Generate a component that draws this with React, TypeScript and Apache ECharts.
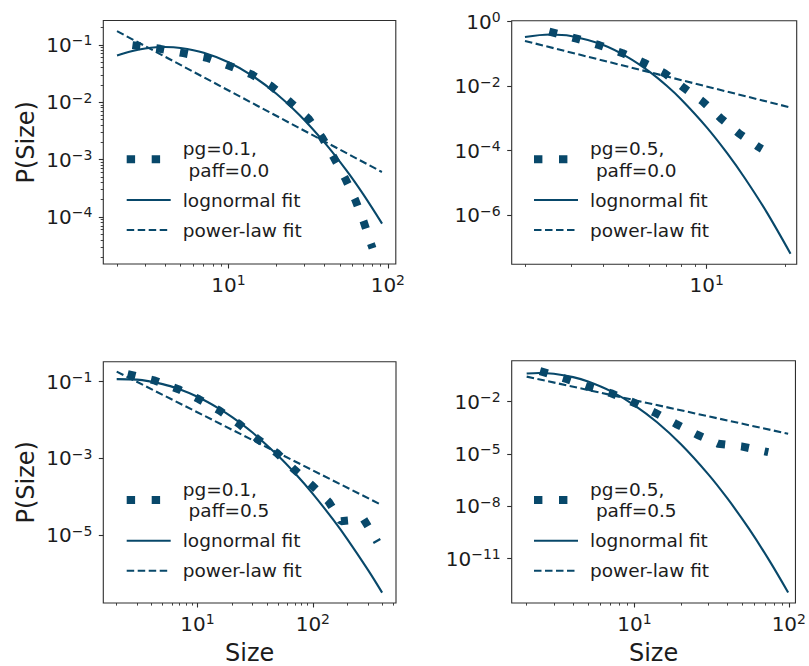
import React, { useEffect, useRef } from "react";
import * as echarts from "echarts";

// ---------- data ----------
// Panel 1: pg=0.1, paff=0.0
const p1Label = "pg=0.1,\n paff=0.0";
const p1DataX = [2.5, 3.73, 5.22, 7.31, 10.0, 14.0, 18.7, 24.4, 31.8, 38.5, 45.6, 54.0, 62.4, 70.3, 78.7, 80.2];
const p1DataY = [0.0985, 0.085, 0.0714, 0.0594, 0.0436, 0.0304, 0.0188, 0.01, 0.00516, 0.00247, 0.00111, 4.7e-4, 2.0e-4, 8.5e-5, 3.3e-5, 2.85e-5];
const p1LogX = [2, 2.5, 3, 4, 5, 7, 10, 14, 20, 28, 40, 55, 70, 92];
const p1LogY = [0.0649, 0.078, 0.0861, 0.0912, 0.0879, 0.0726, 0.0496, 0.0293, 0.014, 0.00593, 0.00199, 6.46e-4, 2.49e-4, 7.64e-5];
const p1PowX = [2, 91.8];
const p1PowY = [0.1726, 6.08e-4];

// Panel 2: pg=0.5, paff=0.0
const p2Label = "pg=0.5,\n paff=0.0";
const p2DataX = [2.48, 3.16, 3.86, 4.75, 5.75, 6.92, 8.19, 9.66, 11.3, 13.3, 15.8, 16.3];
const p2DataY = [0.49, 0.298, 0.186, 0.105, 0.0526, 0.0245, 0.0087, 0.0033, 0.00102, 3.4e-4, 1.3e-4, 1.12e-4];
const p2LogX = [2, 2.5, 3, 4, 5, 6, 7, 8, 10, 12, 14, 17, 21];
const p2LogY = [0.333, 0.398, 0.357, 0.188, 0.0767, 0.0286, 0.0104, 0.00377, 5.25e-4, 8.17e-5, 1.41e-5, 1.23e-6, 6.3e-8];
const p2PowX = [2, 20.9];
const p2PowY = [0.252, 0.00219];

// Panel 3: pg=0.1, paff=0.5
const p3Label = "pg=0.1,\n paff=0.5";
const p3DataX = [2.49, 4.3, 6.84, 10.3, 15.5, 23.1, 33.8, 48.8, 69, 96.2, 137, 175, 275, 348, 362];
const p3DataY = [0.158, 0.106, 0.0636, 0.0349, 0.0177, 0.0078, 0.00306, 0.00138, 5.1e-4, 2.1e-4, 7.4e-5, 2.3e-5, 2.6e-5, 8.2e-6, 6.6e-6];
const p3LogX = [2, 3, 5, 7, 10, 15, 20, 30, 50, 70, 100, 150, 200, 300, 398];
const p3LogY = [0.1167, 0.1127, 0.0863, 0.0631, 0.0403, 0.0208, 0.01189, 0.00471, 0.00117, 4.08e-4, 1.19e-4, 2.52e-5, 7.64e-6, 1.24e-6, 3.17e-7];
const p3PowX = [2, 385];
const p3PowY = [0.182, 6.3e-5];

// Panel 4: pg=0.5, paff=0.5
const p4Label = "pg=0.5,\n paff=0.5";
const p4DataX = [2.44, 3.65, 5.03, 7.05, 9.86, 13.5, 18.5, 25.5, 34.8, 49.2, 69.5, 73.6];
const p4DataY = [0.56, 0.19, 0.072, 0.03, 0.0088, 0.00235, 5.3e-4, 1.25e-4, 3.8e-5, 2.7e-5, 1.4e-5, 1.26e-5];
const p4LogX = [2, 2.4, 3, 4, 5, 7, 10, 14, 20, 30, 40, 55, 75, 99];
const p4LogY = [0.407, 0.437, 0.394, 0.252, 0.141, 0.0396, 0.00612, 6.49e-4, 3.56e-5, 6.92e-7, 2.77e-8, 5.31e-10, 7.36e-12, 1.13e-13];
const p4PowX = [2, 99];
const p4PowY = [0.27, 1.43e-4];

// tick values
const xMajor = [10, 100];
const xMinor = [2, 3, 4, 5, 6, 7, 8, 9, 20, 30, 40, 50, 60, 70, 80, 90, 200, 300, 400, 500];
const p1YMajor = [1e-1, 1e-2, 1e-3, 1e-4];
const p1YMinor = [-5, -4, -3, -2, -1].flatMap((e) => [2, 3, 4, 5, 6, 7, 8, 9].map((k) => k * Math.pow(10, e)));
const p2YMajor = [1, 1e-2, 1e-4, 1e-6];
const p3YMajor = [1e-1, 1e-3, 1e-5];
const p4YMajor = [1e-2, 1e-5, 1e-8, 1e-11];

const LOG_FIT = "lognormal fit";
const POW_FIT = "power-law fit";

// ---------- style ----------
const COLOR = "#08486a";
const TEXT = "#1c1c1c";
const SPINE = "#2e2e2e";
const FONT = "DejaVu Sans";
const DATA_DASH = [8, 16];
const LEGEND_DATA_DASH = [8.4, 16.6];
const FIT_DASH = [7.5, 3.5];
const LEGEND_FIT_DASH = [7.5, 3.5];

const panels = [
  { label: p1Label, dx: p1DataX, dy: p1DataY, lx: p1LogX, ly: p1LogY, px: p1PowX, py: p1PowY, yMajor: p1YMajor, yMinor: p1YMinor,
    xr: [0.215, 2.05], yr: [-4.82, -0.577], grid: { left: 103.3, top: 20.5, width: 292.5, height: 243.5 }, legend: { left: 122.7, top: 137.8 } },
  { label: p2Label, dx: p2DataX, dy: p2DataY, lx: p2LogX, ly: p2LogY, px: p2PowX, py: p2PowY, yMajor: p2YMajor, yMinor: [],
    xr: [0.25, 1.346], yr: [-7.53, 0.03], grid: { left: 511.7, top: 20.7, width: 285, height: 243.6 }, legend: { left: 530, top: 137.8 } },
  { label: p3Label, dx: p3DataX, dy: p3DataY, lx: p3LogX, ly: p3LogY, px: p3PowX, py: p3PowY, yMajor: p3YMajor, yMinor: [],
    xr: [0.185, 2.72], yr: [-6.77, -0.48], grid: { left: 103.3, top: 361.7, width: 292.7, height: 242.3 }, legend: { left: 122.7, top: 478.5 } },
  { label: p4Label, dx: p4DataX, dy: p4DataY, lx: p4LogX, ly: p4LogY, px: p4PowX, py: p4PowY, yMajor: p4YMajor, yMinor: [],
    xr: [0.204, 2.043], yr: [-13.55, 0.343], grid: { left: 511.7, top: 360.7, width: 285, height: 243.3 }, legend: { left: 530, top: 478.5 } },
];

const zip = (xs: number[], ys: number[]) => xs.map((x, i) => [x, ys[i]]);

const fmtPow = (v: number) => {
  const e = Math.round(Math.log10(v));
  return `{b|10}{s|${String(e).replace("-", "\u2212")}}`;
};
const rich = {
  b: { fontSize: 20, lineHeight: 23, fontFamily: FONT, color: TEXT },
  s: { fontSize: 14, lineHeight: 12, verticalAlign: "top", fontFamily: FONT, color: TEXT },
};

function buildOption() {
  const grid: any[] = [];
  const xAxis: any[] = [];
  const yAxis: any[] = [];
  const series: any[] = [];
  const legend: any[] = [];

  panels.forEach((p, i) => {
    grid.push({ ...p.grid, show: true, borderColor: SPINE, borderWidth: 1.1, backgroundColor: "#fff", containLabel: false });
    const xmin = Math.pow(10, p.xr[0]);
    const xmax = Math.pow(10, p.xr[1]);
    const ymin = Math.pow(10, p.yr[0]);
    const ymax = Math.pow(10, p.yr[1]);
    xAxis.push({
      type: "log", logBase: 10, gridIndex: i, position: "bottom", min: xmin, max: xmax,
      axisLine: { show: false },
      axisTick: { show: true, customValues: xMajor, length: 4.5, lineStyle: { color: SPINE, width: 1.1 } },
      axisLabel: { show: true, customValues: xMajor, formatter: fmtPow, rich, margin: 9 },
      splitLine: { show: false }, minorTick: { show: false }, minorSplitLine: { show: false },
      name: i >= 2 ? "Size" : "", nameLocation: "middle", nameGap: 38,
      nameTextStyle: { fontSize: 24, fontFamily: FONT, color: TEXT },
    });
    yAxis.push({
      type: "log", logBase: 10, gridIndex: i, position: "left", min: ymin, max: ymax,
      axisLine: { show: false },
      axisTick: { show: true, customValues: p.yMajor, length: 4.5, lineStyle: { color: SPINE, width: 1.1 } },
      axisLabel: { show: true, customValues: p.yMajor, formatter: fmtPow, rich, margin: 11 },
      splitLine: { show: false }, minorTick: { show: false }, minorSplitLine: { show: false },
      name: i % 2 === 0 ? "P(Size)" : "", nameLocation: "middle", nameGap: 65, nameRotate: 90,
      nameTextStyle: { fontSize: 24, fontFamily: FONT, color: TEXT },
    });
    series.push(
      {
        type: "line", name: p.label, xAxisIndex: i, yAxisIndex: i, data: zip(p.dx, p.dy), symbol: "none",
        lineStyle: { color: COLOR, width: 8, type: DATA_DASH.slice(), cap: "butt" }, itemStyle: { color: COLOR }, silent: true, z: 2,
      },
      {
        type: "line", name: LOG_FIT, xAxisIndex: i, yAxisIndex: i, data: zip(p.lx, p.ly), symbol: "none", smooth: 0.35,
        lineStyle: { color: COLOR, width: 2.1, type: "solid" }, itemStyle: { color: COLOR }, silent: true, z: 3,
      },
      {
        type: "line", name: POW_FIT, xAxisIndex: i, yAxisIndex: i, data: zip(p.px, p.py), symbol: "none",
        lineStyle: { color: COLOR, width: 2.1, type: FIT_DASH.slice(), cap: "butt" }, itemStyle: { color: COLOR }, silent: true, z: 3,
      }
    );
    const hidden = { opacity: 0, color: "rgba(0,0,0,0)", borderWidth: 0 };
    legend.push({
      left: p.legend.left, top: p.legend.top, orient: "vertical", padding: 0, itemGap: 8.5,
      itemWidth: 44, itemHeight: 10, selectedMode: false,
      textStyle: { fontSize: 18.5, lineHeight: 21.5, fontFamily: FONT, color: TEXT, padding: [0, 0, 0, 7] },
      data: [
        { name: p.label, itemStyle: hidden, lineStyle: { color: COLOR, width: 8, type: LEGEND_DATA_DASH.slice(), cap: "butt" } },
        { name: LOG_FIT, itemStyle: hidden, lineStyle: { color: COLOR, width: 2.1, type: "solid" } },
        { name: POW_FIT, itemStyle: hidden, lineStyle: { color: COLOR, width: 2.1, type: LEGEND_FIT_DASH.slice(), cap: "butt" } },
      ],
    });
  });

  // minor tick axes
  panels.forEach((p, i) => {
    xAxis.push({
      type: "log", logBase: 10, gridIndex: i, position: "bottom", min: Math.pow(10, p.xr[0]), max: Math.pow(10, p.xr[1]),
      axisLine: { show: false }, axisLabel: { show: false },
      axisTick: { show: true, customValues: xMinor, length: 2.6, lineStyle: { color: SPINE, width: 0.9 } },
      splitLine: { show: false }, minorTick: { show: false },
    });
    if (p.yMinor.length) {
      yAxis.push({
        type: "log", logBase: 10, gridIndex: i, position: "left", min: Math.pow(10, p.yr[0]), max: Math.pow(10, p.yr[1]),
        axisLine: { show: false }, axisLabel: { show: false },
        axisTick: { show: true, customValues: p.yMinor, length: 2.6, lineStyle: { color: SPINE, width: 0.9 } },
        splitLine: { show: false }, minorTick: { show: false },
      });
    }
  });

  return {
    animation: false,
    backgroundColor: "#ffffff",
    textStyle: { fontFamily: FONT },
    grid, xAxis, yAxis, series, legend,
  };
}

export default function App() {
  const ref = useRef<HTMLDivElement>(null);
  useEffect(() => {
    document.body.style.margin = "0";
    if (!ref.current) return;
    const chart = echarts.init(ref.current, null, { renderer: "svg" });
    chart.setOption(buildOption() as any);
    return () => chart.dispose();
  }, []);
  return <div ref={ref} style={{ position: "absolute", left: 0, top: 0, width: 809, height: 666 }} />;
}
